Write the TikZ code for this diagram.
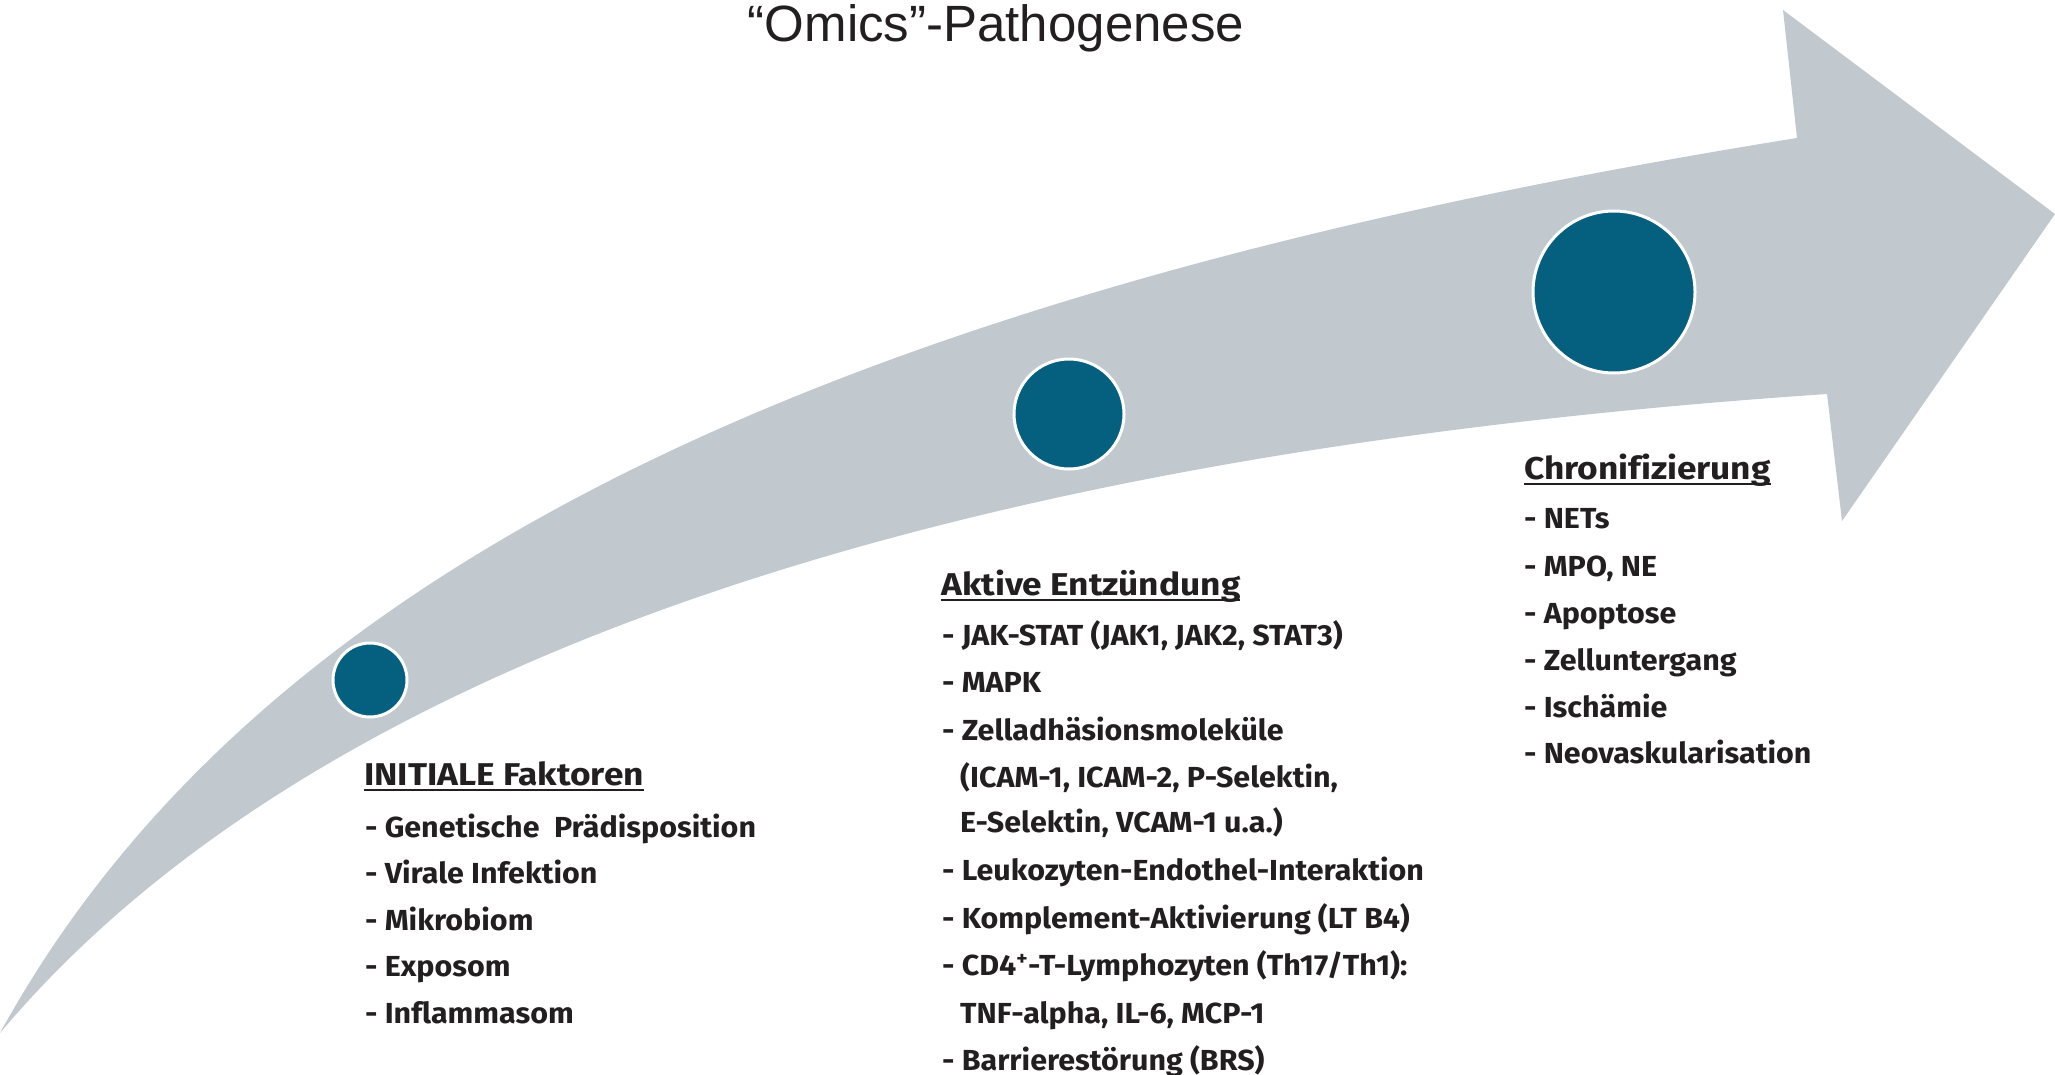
\documentclass[tikz,border=0pt]{standalone}
\usepackage{fontspec}
\newfontfamily\itmfont{Fira Sans}[Ligatures=NoCommon, FakeStretch=1.05]
\newfontfamily\hdrfont{Fira Sans}[Ligatures=NoCommon, FakeStretch=1.12]
\newfontfamily\titlefont{Liberation Sans}
\newcommand{\myul}[1]{\setbox0=\hbox{#1}\rlap{\rule[-5.5pt]{\wd0}{1.8pt}}\box0}
\definecolor{arrowgray}{HTML}{C1C8CE}
\definecolor{dotblue}{HTML}{05607F}
\definecolor{ink}{HTML}{231F20}
\tikzset{
  hdr/.style={anchor=base west, inner sep=0pt, text=ink, font=\hdrfont\bfseries\fontsize{31.5}{36}\selectfont},
  itm/.style={anchor=base west, inner sep=0pt, text=ink, font=\itmfont\bfseries\fontsize{29}{34}\selectfont},
  dot/.style={circle, fill=dotblue, draw=white, line width=3pt, inner sep=0pt},
}
\begin{document}
\begin{tikzpicture}[x=1pt, y=-1pt]
\useasboundingbox (0,0) rectangle (2055,1075);
% curved arrow
\fill[arrowgray] (0,1033) .. controls (260,560) and (850,290) .. (1797,138)
  -- (1783,10) -- (2055,214) -- (1842,521) -- (1827,394)
  .. controls (850,460) and (280,700) .. (0,1033) -- cycle;
% title
\node[anchor=base, inner sep=0pt, text=ink, font=\titlefont\fontsize{51}{60}\selectfont] (title) at (996,42) {“Omics”-Pathogenese};
% dots
\node[dot, minimum size=74pt] (d1) at (370,680) {};
\node[dot, minimum size=110pt] (d2) at (1069,414) {};
\node[dot, minimum size=162pt] (d3) at (1614,292) {};
% INITIALE
\node[hdr] (h1) at (364,785) {\myul{INITIALE Faktoren}};
\node[itm] (i1a) at (365,837) {- Genetische\ \ Prädisposition};
\node[itm] (i1b) at (365,883) {- Virale Infektion};
\node[itm] (i1c) at (365,930) {- Mikrobiom};
\node[itm] (i1d) at (365,976) {- Exposom};
\node[itm] (i1e) at (365,1023) {- Inflammasom};
% Aktive
\node[hdr] (h2) at (941,595) {\myul{Aktive Entzündung}};
\node[itm] (i2a) at (942,645) {- JAK-STAT (JAK1, JAK2, STAT3)};
\node[itm] (i2b) at (942,692) {- MAPK};
\node[itm] (i2c) at (942,740) {- Zelladhäsionsmoleküle};
\node[itm] (i2d) at (960,787) {(ICAM-1, ICAM-2, P-Selektin,};
\node[itm] (i2e) at (960,832) {E-Selektin, VCAM-1 u.a.)};
\node[itm] (i2f) at (942,880) {- Leukozyten-Endothel-Interaktion};
\node[itm] (i2g) at (942,928) {- Komplement-Aktivierung (LT B4)};
\node[itm] (i2h) at (942,975) {- CD4\textsuperscript{+}-T-Lymphozyten (Th17/Th1):};
\node[itm] (i2i) at (960,1023) {TNF-alpha, IL-6, MCP-1};
\node[itm] (i2j) at (942,1070) {- Barrierestörung (BRS)};
% Chronifizierung
\node[hdr] (h3) at (1524,479) {\myul{Chronifizierung}};
\node[itm] (i3a) at (1524,528) {- NETs};
\node[itm] (i3b) at (1524,576) {- MPO, NE};
\node[itm] (i3c) at (1524,623) {- Apoptose};
\node[itm] (i3d) at (1524,670) {- Zelluntergang};
\node[itm] (i3e) at (1524,717) {- Ischämie};
\node[itm] (i3f) at (1524,763) {- Neovaskularisation};
\end{tikzpicture}
\end{document}
